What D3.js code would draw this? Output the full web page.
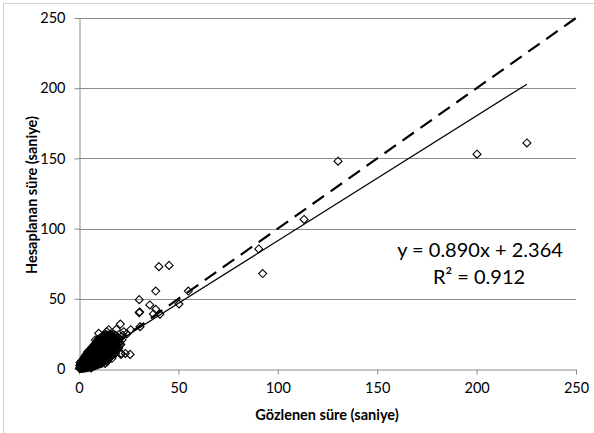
<!DOCTYPE html>
<html>
<head>
<meta charset="utf-8">
<script src="https://cdn.jsdelivr.net/npm/d3@7"></script>
<style>
    body { margin: 0; background: white; }
    text { font-family: Lato, "Open Sans", sans-serif; fill: black; }
</style>
</head>
<body>
<svg id="chart" width="594" height="433"></svg>
<script>
// observed (x) and computed (y) durations, seconds
const gozlenen = [
    0.3, 0.5, 0.8, 1.0, 1.2, 1.5, 1.8, 2.0, 2.2, 2.5, 2.8, 3.0, 3.2, 3.5, 3.8, 4.0, 4.2, 4.5, 4.8, 5.0,
    5.2, 5.5, 5.8, 6.0, 6.2, 6.5, 6.8, 7.0, 7.2, 7.5, 7.8, 8.0, 8.2, 8.5, 8.8, 9.0, 9.2, 9.5, 9.8, 10.0,
    10.2, 10.5, 10.8, 11.0, 11.2, 11.5, 11.8, 12.0, 12.2, 12.5, 12.8, 13.0, 13.2, 13.5, 13.8, 14.0, 14.2, 14.5, 14.8, 15.0,
    15.2, 15.5, 15.8, 16.0, 16.2, 16.5, 16.8, 17.0, 17.5, 17.8, 18.0, 18.5, 19.0, 19.5, 20.0, 20.5, 21.0, 21.6,
    1.5, 2.5, 3.5, 4.5, 5.5, 6.5, 7.5, 8.2, 9.9, 2.0, 3.0, 4.5, 6.5, 8.5, 10.5, 13.2, 14.1, 16.6, 18.3,
    11.5, 12.5, 13.9, 14.9, 18.8, 20.8, 22.5, 19.1, 21.3, 23.3, 21.1, 25.7, 6.0, 0.5, 1.0, 7.0, 9.5, 12.0, 3.8,
    22.0, 24.0, 26.0, 30.7, 30.3, 30.5, 30.3, 35.6, 38.6, 37.4, 40.7, 38.6, 40.2, 45.3, 50.3, 55.0,
    90.4, 92.4, 113.2, 130.3, 200.2, 225.3
];
const hesaplanan = [
    0.4, 1.0, 0.6, 1.5, 0.8, 2.2, 1.2, 3.0, 1.8, 2.6, 4.0, 2.2, 5.5, 3.4, 1.5, 4.8, 7.0, 3.6, 5.8, 2.5,
    8.5, 4.6, 6.8, 10.5, 3.8, 7.5, 5.4, 12.0, 8.8, 6.2, 10.0, 4.2, 14.0, 9.0, 11.5, 7.0, 16.5, 12.5, 5.0, 10.2,
    14.5, 8.0, 18.0, 12.0, 6.0, 15.5, 10.5, 20.0, 13.0, 8.5, 17.0, 11.5, 22.0, 14.5, 9.5, 19.0, 13.0, 23.5, 16.5, 11.0,
    21.0, 14.0, 25.0, 18.0, 12.5, 22.5, 16.0, 20.0, 24.5, 14.5, 18.5, 22.0, 17.0, 20.5, 15.0, 19.0, 17.5, 20.7,
    4.0, 6.0, 8.0, 10.0, 12.5, 14.0, 16.0, 20.7, 25.4, 0.5, 1.0, 1.2, 2.0, 3.0, 4.5, 4.0, 5.2, 7.6, 11.1,
    21.5, 24.0, 26.6, 28.0, 28.3, 32.0, 26.6, 13.5, 11.1, 11.1, 10.4, 10.4, 0.8, 2.5, 3.0, 3.0, 6.0, 7.0, 10.2,
    24.0, 25.0, 28.0, 30.1, 40.1, 40.6, 49.4, 45.6, 42.5, 39.2, 39.0, 55.5, 72.9, 73.8, 46.3, 55.5,
    85.5, 68.0, 106.5, 148.0, 153.0, 161.0
];
// the dense, overlapping group of short durations near the origin
const kumeX = [
    0.5, 0.5, 0.5,
    1.5, 1.5, 1.5, 1.5,
    2.5, 2.5, 2.5, 2.5, 2.5,
    3.5, 3.5, 3.5, 3.5, 3.5, 3.5,
    4.5, 4.5, 4.5, 4.5, 4.5, 4.5, 4.5,
    5.5, 5.5, 5.5, 5.5, 5.5, 5.5, 5.5,
    6.5, 6.5, 6.5, 6.5, 6.5, 6.5, 6.5, 6.5,
    7.5, 7.5, 7.5, 7.5, 7.5, 7.5, 7.5, 7.5,
    8.5, 8.5, 8.5, 8.5, 8.5, 8.5, 8.5, 8.5, 8.5,
    9.5, 9.5, 9.5, 9.5, 9.5, 9.5, 9.5, 9.5, 9.5, 9.5,
    10.5, 10.5, 10.5, 10.5, 10.5, 10.5, 10.5, 10.5, 10.5, 10.5,
    11.5, 11.5, 11.5, 11.5, 11.5, 11.5, 11.5, 11.5, 11.5, 11.5,
    12.5, 12.5, 12.5, 12.5, 12.5, 12.5, 12.5, 12.5, 12.5, 12.5,
    13.5, 13.5, 13.5, 13.5, 13.5, 13.5, 13.5, 13.5, 13.5, 13.5,
    14.5, 14.5, 14.5, 14.5, 14.5, 14.5, 14.5, 14.5, 14.5,
    15.5, 15.5, 15.5, 15.5, 15.5, 15.5, 15.5, 15.5, 15.5,
    16.5, 16.5, 16.5, 16.5, 16.5, 16.5, 16.5, 16.5,
    17.5, 17.5, 17.5, 17.5, 17.5, 17.5,
    18.5, 18.5, 18.5, 18.5, 18.5,
    19.5, 19.5, 19.5,
    20.5, 20.5
];
const kumeY = [
    0.5, 2.5, 4.5,
    0.3, 2.0, 4.0, 6.0,
    0.5, 2.5, 4.5, 6.5, 8.0,
    0.8, 2.8, 4.8, 6.8, 8.8, 10.0,
    1.0, 3.0, 5.0, 7.0, 9.0, 11.0, 12.5,
    1.5, 3.5, 5.5, 7.5, 9.5, 11.5, 13.5,
    1.2, 3.2, 5.2, 7.2, 9.2, 11.2, 13.2, 15.5,
    2.0, 4.0, 6.0, 8.0, 10.0, 12.0, 14.0, 17.0,
    2.5, 4.5, 6.5, 8.5, 10.5, 12.5, 14.5, 16.5, 18.5,
    3.0, 5.0, 7.0, 9.0, 11.0, 13.0, 15.0, 17.0, 19.0, 21.0,
    3.5, 5.5, 7.5, 9.5, 11.5, 13.5, 15.5, 17.5, 19.5, 22.0,
    4.0, 6.0, 8.0, 10.0, 12.0, 14.0, 16.0, 18.0, 20.0, 23.0,
    5.0, 7.0, 9.0, 11.0, 13.0, 15.0, 17.0, 19.0, 21.0, 22.5,
    6.0, 8.0, 10.0, 12.0, 14.0, 16.0, 18.0, 20.0, 22.0, 24.5,
    7.0, 9.0, 11.0, 13.0, 15.0, 17.0, 19.0, 21.0, 24.0,
    8.0, 10.0, 12.0, 14.0, 16.0, 18.0, 20.0, 22.0, 24.0,
    9.5, 11.5, 13.5, 15.5, 17.5, 19.5, 21.5, 23.5,
    10.5, 12.5, 16.5, 18.5, 20.5, 22.5,
    14.0, 16.0, 18.0, 20.0, 24.0,
    16.0, 18.5, 22.5,
    17.0, 21.5
];
// second layer of the same group, sitting between the first
const kume2X = [
    1, 1, 1,
    2, 2, 2, 2,
    3, 3, 3, 3, 3,
    4, 4, 4, 4, 4, 4,
    5, 5, 5, 5, 5, 5,
    6, 6, 6, 6, 6, 6, 6,
    7, 7, 7, 7, 7, 7, 7, 7,
    8, 8, 8, 8, 8, 8, 8, 8,
    9, 9, 9, 9, 9, 9, 9, 9, 9,
    10, 10, 10, 10, 10, 10, 10, 10, 10,
    11, 11, 11, 11, 11, 11, 11, 11, 11,
    12, 12, 12, 12, 12, 12, 12, 12, 12,
    13, 13, 13, 13, 13, 13, 13, 13, 13,
    14, 14, 14, 14, 14, 14, 14, 14,
    15, 15, 15, 15, 15, 15, 15, 15,
    16, 16, 16, 16, 16, 16, 16,
    17, 17, 17, 17, 17,
    18, 18, 18, 18,
    19, 19
];
const kume2Y = [
    1.0, 3.0, 5.0,
    0.8, 2.8, 4.8, 6.8,
    1.2, 3.2, 5.2, 7.2, 9.0,
    1.5, 3.5, 5.5, 7.5, 9.5, 11.0,
    2.0, 4.0, 6.0, 8.0, 10.0, 12.0,
    2.0, 4.0, 6.0, 8.0, 10.0, 12.0, 14.0,
    2.5, 4.5, 6.5, 8.5, 10.5, 12.5, 14.5, 16.0,
    3.0, 5.0, 7.0, 9.0, 11.0, 13.0, 15.0, 17.5,
    3.5, 5.5, 7.5, 9.5, 11.5, 13.5, 15.5, 17.5, 19.5,
    4.0, 6.0, 8.0, 10.0, 12.0, 14.0, 16.0, 18.0, 20.5,
    5.0, 7.0, 9.0, 11.0, 13.0, 15.0, 17.0, 19.0, 21.0,
    6.0, 8.0, 10.0, 12.0, 14.0, 16.0, 18.0, 20.0, 22.0,
    7.0, 9.0, 11.0, 13.0, 15.0, 17.0, 19.0, 21.0, 23.0,
    8.0, 10.0, 12.0, 14.0, 16.0, 18.0, 20.0, 22.0,
    9.0, 11.0, 13.0, 15.0, 17.0, 19.0, 21.0, 23.0,
    10.5, 12.5, 14.5, 16.5, 18.5, 20.5, 22.5,
    12.0, 14.0, 17.5, 19.5, 21.5,
    15.0, 17.0, 19.0, 21.0,
    17.0, 20.0
];
const tickValues = [0, 50, 100, 150, 200, 250];
const slope = 0.890,
    intercept = 2.364;
const equationTxt = "y = 0.890x + 2.364";
const r2Txt = "R² = 0.912";
const xTitle = "Gözlenen süre (saniye)";
const yTitle = "Hesaplanan süre (saniye)";

const svgSpace = d3.select("#chart");
const x = d3.scaleLinear().domain([0, 250]).range([79, 576]);
const y = d3.scaleLinear().domain([0, 250]).range([369, 18]);
const gridColor = "#8c8c8c";

// chart frame (only top and left edges are in the picture)
svgSpace.append("rect")
    .attr("x", 3.5).attr("y", 3.5)
    .attr("width", 800).attr("height", 800)
    .attr("fill", "none")
    .attr("stroke", "#d0d0d0");

// horizontal gridlines
svgSpace.append("g")
    .selectAll("line")
    .data(tickValues.slice(1))
    .enter()
    .append("line")
    .attr("x1", x(0)).attr("x2", x(250))
    .attr("y1", (d) => Math.round(y(d)) + 0.5)
    .attr("y2", (d) => Math.round(y(d)) + 0.5)
    .attr("stroke", gridColor);

const xAxis = svgSpace.append("g")
    .attr("transform", `translate(0,${Math.round(y(0)) + 0.5})`)
    .call(d3.axisBottom(x).tickValues(tickValues).tickSize(5).tickPadding(8).tickSizeOuter(0));
const yAxis = svgSpace.append("g")
    .attr("transform", `translate(${Math.round(x(0)) + 0.5},0)`)
    .call(d3.axisLeft(y).tickValues(tickValues).tickSize(5).tickPadding(9).tickSizeOuter(0));

[xAxis, yAxis].forEach((ax) => {
    ax.selectAll("path, line").attr("stroke", gridColor);
    ax.selectAll("text")
        .style("font-family", "Lato, sans-serif")
        .style("font-size", "14.5px")
        .attr("fill", "black");
});

// observations as hollow diamonds
const points = gozlenen.map((d, i) => [d, hesaplanan[i]])
    .concat(kumeX.map((d, i) => [d, kumeY[i]]))
    .concat(kume2X.map((d, i) => [d, kume2Y[i]]));
const diamond = "M0,-4L4,0L0,4L-4,0Z";
svgSpace.append("g")
    .selectAll("path")
    .data(points)
    .enter()
    .append("path")
    .attr("d", diamond)
    .attr("transform", (d) => `translate(${x(d[0])},${y(d[1])})`)
    .attr("fill", "none")
    .attr("stroke", "black")
    .attr("stroke-width", 1.1);

// y = x reference line
svgSpace.append("line")
    .attr("x1", x(0)).attr("y1", y(0))
    .attr("x2", x(250)).attr("y2", y(250))
    .attr("stroke", "black")
    .attr("stroke-width", 2.2)
    .attr("stroke-dasharray", "14,8");

// linear trend line
const xMax = d3.max(gozlenen);
svgSpace.append("line")
    .attr("x1", x(0)).attr("y1", y(intercept))
    .attr("x2", x(xMax)).attr("y2", y(slope * xMax + intercept))
    .attr("stroke", "black")
    .attr("stroke-width", 1.2);

addText(equationTxt, 480, 257, "middle", "20px", "normal");
addText(r2Txt, 479, 284, "middle", "20px", "normal");

addText(xTitle, 327, 420, "middle", "14.5px", "bold");
addText(yTitle, 0, 0, "middle", "14.5px", "bold")
    .attr("transform", "translate(37,195) rotate(-90)");

function addText(txt, px, py, anchor, fontSize, weight) {
    return svgSpace
        .append("text")
        .text(txt)
        .attr("x", px)
        .attr("y", py)
        .style("text-anchor", anchor)
        .style("font-size", fontSize)
        .style("font-weight", weight);
}
</script>
</body>
</html>
